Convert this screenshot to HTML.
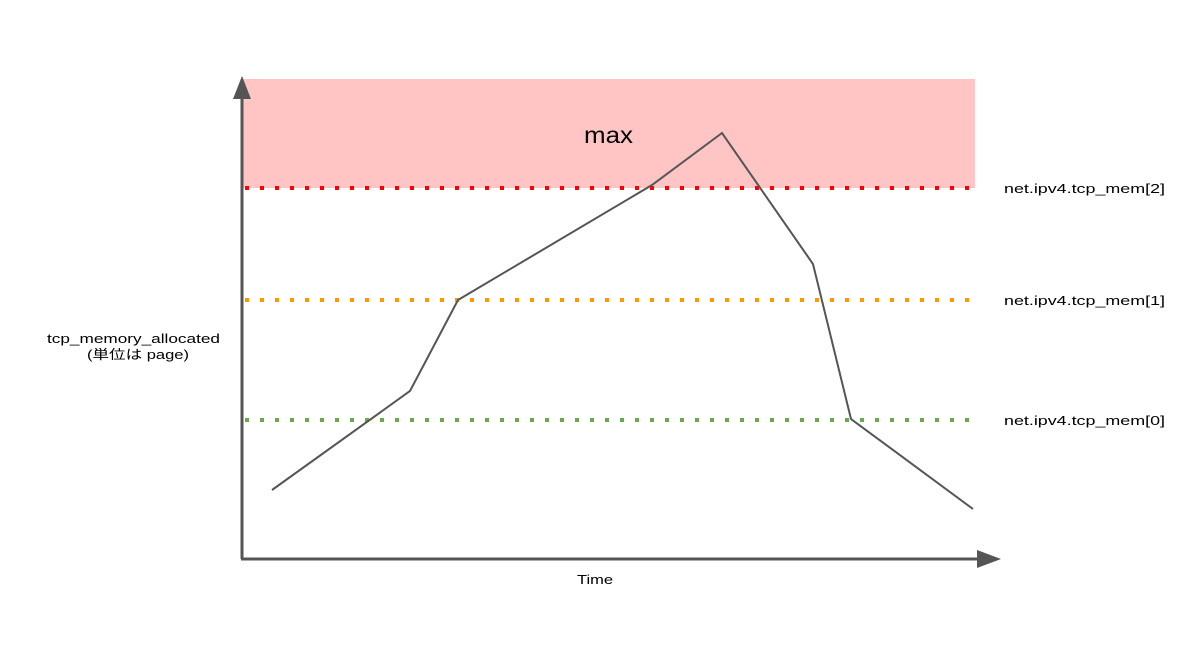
<!DOCTYPE html>
<html><head><meta charset="utf-8"><style>
html,body{margin:0;padding:0;background:#fff;}
svg{display:block;font-family:"Liberation Sans","Noto Sans CJK JP",sans-serif;}
</style></head><body>
<svg id="chart" width="1200" height="671" viewBox="0 0 1200 671">
<rect x="243" y="79" width="732" height="109" fill="#ffc4c4"/>
<text x="584" y="143" font-size="23" textLength="49" lengthAdjust="spacingAndGlyphs" fill="#000">max</text>
<g id="thresholds"></g>
<polyline id="series" fill="none" stroke="#555" stroke-width="2"/>
<line x1="242" y1="559" x2="242" y2="96" stroke="#555" stroke-width="3"/>
<polygon points="242,76 233,99 251,99" fill="#555"/>
<line x1="241" y1="559" x2="980" y2="559" stroke="#555" stroke-width="3"/>
<polygon points="1001,559 977,550 977,568" fill="#555"/>
<text x="577" y="584" font-size="13" textLength="36" lengthAdjust="spacingAndGlyphs" fill="#000">Time</text>
<text x="47" y="343" font-size="13" textLength="173" lengthAdjust="spacingAndGlyphs" fill="#000">tcp_memory_allocated</text>
<text x="87" y="359" font-size="13" textLength="102" lengthAdjust="spacingAndGlyphs" fill="#000">(単位は page)</text>
</svg>
<script>
const times = [30, 168, 216, 410, 480, 571, 609, 731];
const memoryValues = [69, 168, 259, 374, 426, 295, 140, 50];
const thresholdNames = ["net.ipv4.tcp_mem[0]", "net.ipv4.tcp_mem[1]", "net.ipv4.tcp_mem[2]"];
const thresholdValues = [139, 259, 371];
const thresholdColors = ["#6aa84f", "#ff9900", "#ff0000"];

function xs(v){ return 242 + v; }
function ys(v){ return 559 - v; }

const svgNS = "http://www.w3.org/2000/svg";
const g = document.getElementById("thresholds");
thresholdValues.forEach((v, i) => {
  const y = ys(v);
  const ln = document.createElementNS(svgNS, "line");
  ln.setAttribute("x1", 245); ln.setAttribute("x2", 975);
  ln.setAttribute("y1", y); ln.setAttribute("y2", y);
  ln.setAttribute("stroke", thresholdColors[i]);
  ln.setAttribute("stroke-width", 4);
  ln.setAttribute("stroke-dasharray", "4 11");
  
  
  g.appendChild(ln);
  const t = document.createElementNS(svgNS, "text");
  t.setAttribute("x", 1004); t.setAttribute("y", y + 5);
  t.setAttribute("font-size", "13");
  t.setAttribute("textLength", "161");
  t.setAttribute("lengthAdjust", "spacingAndGlyphs");
  t.textContent = thresholdNames[i];
  
  
  g.appendChild(t);
});
document.getElementById("series").setAttribute("points",
  times.map((t, i) => xs(t) + "," + ys(memoryValues[i])).join(" "));
</script>
</body></html>
